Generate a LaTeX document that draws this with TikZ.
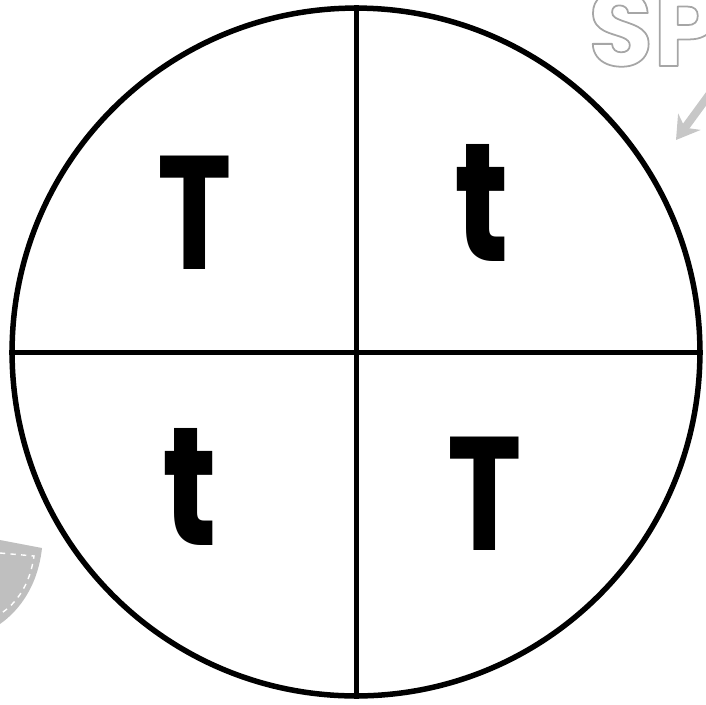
\documentclass[tikz,border=0pt]{standalone}
\usepackage{fontspec}
\newfontfamily\letterfont{Poppins}
\usetikzlibrary{arrows.meta}

\begin{document}
\begin{tikzpicture}[
    x=0.02cm, y=-0.02cm,
    wheel/.style={circle, draw, line width=0.11cm, minimum size=13.76cm, inner sep=0pt},
    divider/.style={line width=0.1cm},
    bigletter/.style={inner sep=0pt, xscale=0.78, font=\letterfont\bfseries\fontsize{92}{92}\selectfont},
    smallletter/.style={inner sep=0pt, xscale=0.8, font=\letterfont\bfseries\fontsize{96}{96}\selectfont},
    faint/.style={black!25},
    sign/.style={inner sep=0pt, text=black!35, font=\letterfont\bfseries\fontsize{60}{60}\selectfont},
    pointer/.style={-{Stealth[length=4.5mm, width=5.5mm]}, line width=1.6mm, black!22}
]
\useasboundingbox (0,0) rectangle (706,704);
\clip (0,0) rectangle (706,704);

% Faint background pieces
\node[sign, anchor=base west] (title) at (588,66)
  {\special{pdf:literal direct 1 Tr 1 w 1 j}SP\special{pdf:literal direct 0 Tr}};
\coordinate (tail) at (714,88);
\coordinate (tip) at (676,140);
\draw[pointer] (tail) -- (tip);
\fill[faint] (0,540) -- (42,548) .. controls (38,585) and (20,610) .. (0,624) -- cycle;
\draw[white, thick, dash pattern=on 3pt off 3pt] (0,553) -- (34,556) .. controls (30,585) and (16,604) .. (0,614);

% Circle and its two dividers
\node[wheel] (wheel) at (356,352) {};
\draw[divider] (wheel.north) -- (wheel.south);
\draw[divider] (wheel.west) -- (wheel.east);

% Letters in the four quarters
\node[bigletter] (tl) at (195,213) {T};
\node[smallletter] (tr) at (482,203) {t};
\node[smallletter] (bl) at (190,487) {t};
\node[bigletter] (br) at (485,494) {T};

\end{tikzpicture}
\end{document}
